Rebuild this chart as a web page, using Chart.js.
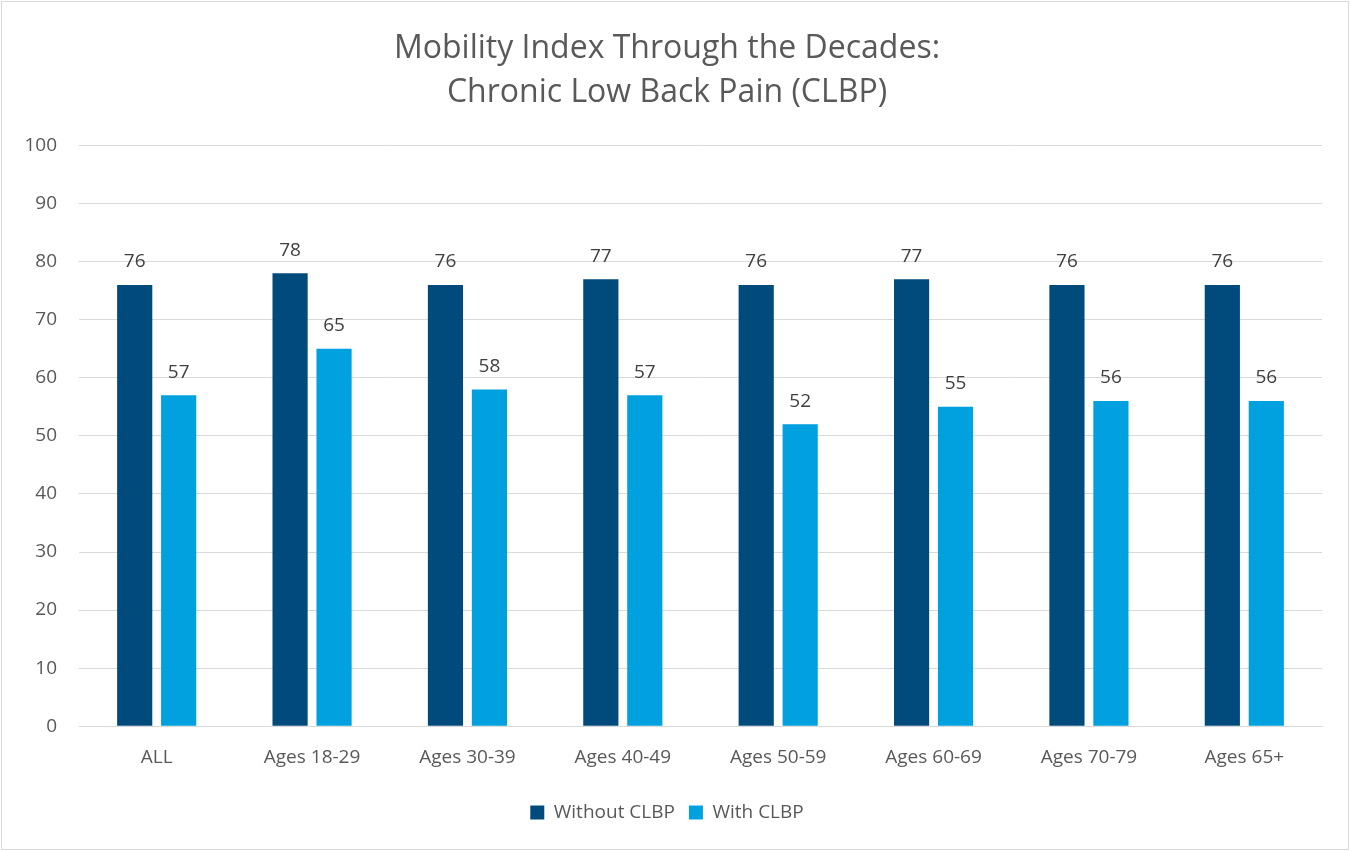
<!DOCTYPE html>
<html>
<head>
<meta charset="utf-8">
<script src="https://cdn.jsdelivr.net/npm/chart.js@4.4.0/dist/chart.umd.min.js"></script>
<style>
    html, body { margin: 0; padding: 0; background: #ffffff; }
    #wrap {
        position: absolute; left: 1px; top: 1px;
        width: 1346px; height: 847px;
        border: 1px solid #d9d9d9;
    }
</style>
</head>
<body>
<div id="wrap"><canvas id="mobilityChart"></canvas></div>
<script>
// Données du graphique
const categories = ['ALL', 'Ages 18-29', 'Ages 30-39', 'Ages 40-49', 'Ages 50-59', 'Ages 60-69', 'Ages 70-79', 'Ages 65+'];
const withoutClbp = [76, 78, 76, 77, 76, 77, 76, 76];
const withClbp = [57, 65, 58, 57, 52, 55, 56, 56];
const titleLines = ['Mobility Index Through the Decades:', 'Chronic Low Back Pain (CLBP)'];

Chart.defaults.font.family = '"Open Sans", sans-serif';
Chart.defaults.color = '#595959';

// Étiquettes de valeurs au-dessus des barres
const valueLabels = {
    id: 'valueLabels',
    afterDatasetsDraw(chart) {
        const ctx = chart.ctx;
        ctx.save();
        ctx.font = '19px "Open Sans", sans-serif';
        ctx.fillStyle = '#404040';
        ctx.textAlign = 'center';
        ctx.textBaseline = 'middle';
        chart.data.datasets.forEach((ds, i) => {
            chart.getDatasetMeta(i).data.forEach((bar, j) => {
                ctx.fillText(ds.data[j], bar.x, bar.y - 23);
            });
        });
        ctx.restore();
    }
};

const ctx = document.getElementById('mobilityChart');
new Chart(ctx, {
    type: 'bar',
    data: {
        labels: categories,
        datasets: [{
            label: 'Without CLBP',
            data: withoutClbp,
            backgroundColor: '#004a7c',
            categoryPercentage: 0.566,
            barPercentage: 0.8
        }, {
            label: 'With CLBP',
            data: withClbp,
            backgroundColor: '#00a1de',
            categoryPercentage: 0.566,
            barPercentage: 0.8
        }]
    },
    options: {
        responsive: true,
        maintainAspectRatio: false,
        animation: false,
        layout: { padding: { left: 10, right: 26, top: 12, bottom: 17 } },
        plugins: {
            title: {
                display: true,
                text: titleLines,
                color: '#595959',
                font: { size: 32, weight: 'normal', lineHeight: 1.4 },
                padding: { top: 12, bottom: 30 }
            },
            legend: {
                position: 'bottom',
                labels: {
                    boxWidth: 14,
                    boxHeight: 14,
                    padding: 14,
                    color: '#595959',
                    font: { size: 19 }
                }
            },
            tooltip: { enabled: false }
        },
        scales: {
            y: {
                min: 0,
                max: 100,
                ticks: { stepSize: 10, color: '#595959', font: { size: 19 }, padding: 22 },
                grid: { color: '#d9d9d9', drawTicks: false },
                border: { display: false },
                afterFit(scale) { scale.width = 67; }
            },
            x: {
                ticks: { color: '#595959', font: { size: 19 }, padding: 20 },
                grid: { display: false, drawTicks: false },
                border: { color: '#d9d9d9' }
            }
        }
    },
    plugins: [valueLabels]
});
</script>
</body>
</html>
